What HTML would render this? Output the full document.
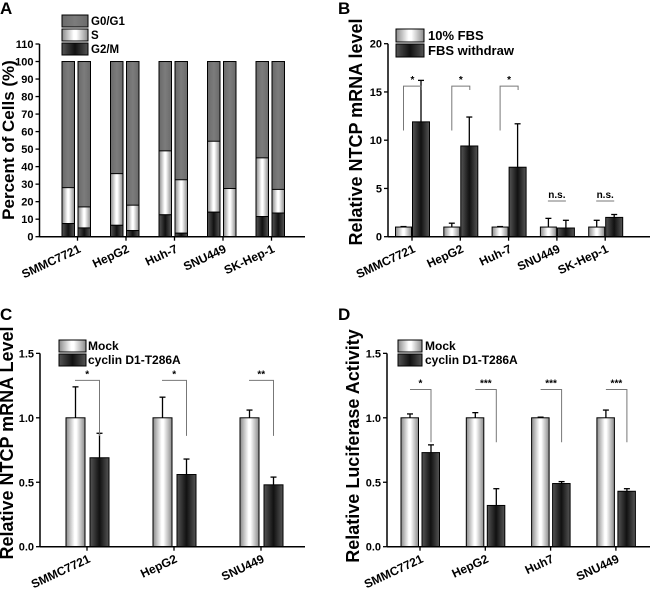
<!DOCTYPE html>
<html><head><meta charset="utf-8"><style>
body{margin:0;background:#fff}
svg{display:block;font-family:"Liberation Sans",Arial,sans-serif;font-weight:bold}
</style></head><body>
<svg id="fig" width="650" height="592" viewBox="0 0 650 592">
<defs>
<linearGradient id="gW" x1="0" x2="1"><stop offset="0" stop-color="#8a8a8a"/><stop offset="0.45" stop-color="#fff"/><stop offset="0.55" stop-color="#fff"/><stop offset="1" stop-color="#8a8a8a"/></linearGradient>
<linearGradient id="gK" x1="0" x2="1"><stop offset="0" stop-color="#555"/><stop offset="0.5" stop-color="#111"/><stop offset="1" stop-color="#555"/></linearGradient>
<linearGradient id="gG" x1="0" x2="1"><stop offset="0" stop-color="#6a6a6a"/><stop offset="0.5" stop-color="#7c7c7c"/><stop offset="1" stop-color="#6a6a6a"/></linearGradient>
</defs>
</svg>
<script>
// Panel A
const aCats=["SMMC7721","HepG2","Huh-7","SNU449","SK-Hep-1"];
const aG2M=[[7.5,5],[6.5,3.5],[12.5,2],[14,0],[11.5,13.5]];
const aSTop=[[28,17],[36,18],[49,32.5],[54.5,27.5],[45,27]];
const aTicks=[0,10,20,30,40,50,60,70,80,90,100,110];
// Panel B
const bCats=["SMMC7721","HepG2","Huh-7","SNU449","SK-Hep-1"];
const bFBS=[1,1,1,1,1];
const bFBSErr=[0.05,0.4,0.05,0.9,0.7];
const bWd=[11.9,9.4,7.2,0.9,2.0];
const bWdErr=[4.3,3.0,4.5,0.8,0.3];
const bSig=["*","*","*","n.s.","n.s."];
const bTicks=[0,5,10,15,20];
// Panel C
const cCats=["SMMC7721","HepG2","SNU449"];
const cMock=[1,1,1];
const cMockErr=[0.24,0.16,0.06];
const cCyc=[0.69,0.56,0.48];
const cCycErr=[0.19,0.12,0.06];
const cSig=["*","*","**"];
const cTicks=[0,0.5,1.0,1.5];
// Panel D
const dCats=["SMMC7721","HepG2","Huh7","SNU449"];
const dMock=[1,1,1,1];
const dMockErr=[0.03,0.04,0.005,0.06];
const dCyc=[0.73,0.32,0.49,0.43];
const dCycErr=[0.06,0.13,0.015,0.02];
const dSig=["*","***","***","***"];
const dTicks=[0,0.5,1.0,1.5];

const svg=document.getElementById('fig');
const NS="http://www.w3.org/2000/svg";
function mk(tag,attrs,parent){const e=document.createElementNS(NS,tag);for(const k in attrs)e.setAttribute(k,attrs[k]);(parent||svg).appendChild(e);return e;}
function txt(s,attrs,parent){const e=mk('text',attrs,parent);e.textContent=s;return e;}
function axisY(ax,ticks,fmt,name){
  const g=mk('g',{});
  
  
  mk('line',{x1:ax.x0,y1:ax.y(ticks[ticks.length-1]),x2:ax.x0,y2:ax.y(0),stroke:'#000','stroke-width':1.5},g);
  ticks.forEach(t=>{
    const y=ax.y(t);
    mk('line',{x1:ax.x0-4,y1:y,x2:ax.x0,y2:y,stroke:'#000','stroke-width':1.3},g);
    const l=txt(fmt(t),{x:ax.x0-6,y:y+4,'font-size':11,'text-anchor':'end'},g);
    
    
  });
}
function axisX(ax,cats,centers,name){
  const g=mk('g',{});
  
  
  mk('line',{x1:ax.x0,y1:ax.y(0),x2:ax.x1,y2:ax.y(0),stroke:'#000','stroke-width':1.5},g);
  cats.forEach((c,i)=>{
    const x=centers[i],y=ax.y(0);
    mk('line',{x1:x,y1:y,x2:x,y2:y+4,stroke:'#000','stroke-width':1.3},g);
    const l=txt(c,{x:x+4,y:y+15,'font-size':12,'text-anchor':'end',transform:`rotate(-25 ${x+4} ${y+15})`},g);
    
    
  });
}
function bar(x,w,y0,y1,fill,name){
  const r=mk('rect',{x:x,y:Math.min(y0,y1),width:w,height:Math.abs(y1-y0),fill:fill,stroke:'#000','stroke-width':1});
  
  
  return r;
}
function err(x,ytop,ybar){
  mk('line',{x1:x,y1:ybar,x2:x,y2:ytop,stroke:'#000','stroke-width':1.3});
  mk('line',{x1:x-3,y1:ytop,x2:x+3,y2:ytop,stroke:'#000','stroke-width':1.3});
}
function label(s,x,y,name){const l=txt(s,{x:x,y:y,'font-size':17});}
function ytitle(s,x,y,size,name){const l=txt(s,{x:x,y:y,'font-size':size,'text-anchor':'middle',transform:`rotate(-90 ${x} ${y})`});}
function legend(items,x,y,w,h,tx,size,name){
  const g=mk('g',{});
  
  
  items.forEach((it,i)=>{
    mk('rect',{x:x,y:y+i*(h+2),width:w,height:h,fill:it[1],stroke:'#000','stroke-width':1},g);
    const l=txt(it[0],{x:tx,y:y+i*(h+2)+h-2,'font-size':size},g);
    
    
  });
}

// ---------- Panel A ----------
label("A",0,14,'panel-a-label');
const A={x0:39.5,x1:305,y:v=>236.7-v*1.7518};
const aCenters=aCats.map((c,i)=>77.5+i*48.5);
aCats.forEach((c,i)=>{
  [0,1].forEach(j=>{
    const x=aCenters[i]+(j===0?-15.5:0.5),w=12.5;
    bar(x,w,A.y(0),A.y(100),'url(#gG)','bar-g0g1-'+c);
    bar(x,w,A.y(aG2M[i][j]),A.y(aSTop[i][j]),'url(#gW)','bar-s-'+c);
    if(aG2M[i][j]>0) bar(x,w,A.y(0),A.y(aG2M[i][j]),'url(#gK)','bar-g2m-'+c);
  });
});
axisY(A,aTicks,t=>String(t),'y-axis-a');
axisX(A,aCats,aCenters,'x-axis-a');
ytitle("Percent of Cells (%)",14,140,17,'y-axis-title-a');
legend([["G0/G1","url(#gG)"],["S","url(#gW)"],["G2/M","url(#gK)"]],62,15,26,12,91,11.5,'legend-a');

// ---------- Panel B ----------
label("B",338,14,'panel-b-label');
const B={x0:388,x1:650,y:v=>236.7-v*9.65};
const bCenters=bCats.map((c,i)=>412+i*48.3);
bCats.forEach((c,i)=>{
  const xc=bCenters[i];
  bar(xc-16.5,16,B.y(0),B.y(bFBS[i]),'url(#gW)','bar-fbs-'+c);
  err(xc-8.5,B.y(bFBS[i]+bFBSErr[i]),B.y(bFBS[i]));
  bar(xc+0.5,17,B.y(0),B.y(bWd[i]),'url(#gK)','bar-withdraw-'+c);
  err(xc+9,B.y(bWd[i]+bWdErr[i]),B.y(bWd[i]));
  const s=bSig[i];
  if(s==="*"){
    const xl=xc-8.5,xr=xc+9.5,yb=B.y(11),yt=B.y(15.6),yr=B.y(15.2);
    mk('path',{d:`M${xl} ${yb}V${yt}H${xr}V${yr}`,fill:'none',stroke:'#777','stroke-width':1});
    txt(s,{x:(xl+xr)/2,y:yt-3,'font-size':10,'text-anchor':'middle'});
  }else{
    mk('line',{x1:xc-9,y1:B.y(3.7),x2:xc+9,y2:B.y(3.7),stroke:'#777','stroke-width':1});
    txt(s,{x:xc,y:B.y(3.7)-3,'font-size':10,'text-anchor':'middle'});
  }
});
axisY(B,bTicks,t=>String(t),'y-axis-b');
axisX(B,bCats,bCenters,'x-axis-b');
ytitle("Relative NTCP mRNA level",362,132,18,'y-axis-title-b');
legend([["10% FBS","url(#gW)"],["FBS withdraw","url(#gK)"]],396,29,28,13,428,13,'legend-b');

// ---------- Panel C ----------
label("C",0,320,'panel-c-label');
const C={x0:40,x1:305,y:v=>546.7-v*128.9};
const cCenters=cCats.map((c,i)=>87+i*87);
cCats.forEach((c,i)=>{
  const xc=cCenters[i];
  bar(xc-21,19,C.y(0),C.y(cMock[i]),'url(#gW)','bar-mock-'+c);
  err(xc-11.5,C.y(cMock[i]+cMockErr[i]),C.y(cMock[i]));
  bar(xc+3,19,C.y(0),C.y(cCyc[i]),'url(#gK)','bar-cyclin-'+c);
  err(xc+12.5,C.y(cCyc[i]+cCycErr[i]),C.y(cCyc[i]));
  const xl=xc-12,xr=xc+12.5,yt=C.y(1.29),yb=C.y(0.86);
  mk('path',{d:`M${xl} ${yt}H${xr}V${yb}`,fill:'none',stroke:'#777','stroke-width':1});
  txt(cSig[i],{x:(xl+xr)/2,y:yt-3,'font-size':10,'text-anchor':'middle'});
});
axisY(C,cTicks,t=>t.toFixed(1),'y-axis-c');
axisX(C,cCats,cCenters,'x-axis-c');
ytitle("Relative NTCP mRNA Level",13,443,18,'y-axis-title-c');
legend([["Mock","url(#gW)"],["cyclin D1-T286A","url(#gK)"]],59,340,27,12,88,12,'legend-c');

// ---------- Panel D ----------
label("D",338,320,'panel-d-label');
const D={x0:387,x1:650,y:v=>546.7-v*128.9};
const dCenters=dCats.map((c,i)=>420+i*65.3);
dCats.forEach((c,i)=>{
  const xc=dCenters[i];
  bar(xc-19,17.5,D.y(0),D.y(dMock[i]),'url(#gW)','bar-mock-'+c);
  err(xc-10,D.y(dMock[i]+dMockErr[i]),D.y(dMock[i]));
  bar(xc+2,17.5,D.y(0),D.y(dCyc[i]),'url(#gK)','bar-cyclin-'+c);
  err(xc+11,D.y(dCyc[i]+dCycErr[i]),D.y(dCyc[i]));
  const xl=xc-10,xr=xc+11,yt=D.y(1.22),yb=D.y(0.81);
  mk('path',{d:`M${xl} ${yt}H${xr}V${yb}`,fill:'none',stroke:'#777','stroke-width':1});
  txt(dSig[i],{x:(xl+xr)/2,y:yt-3,'font-size':10,'text-anchor':'middle'});
});
axisY(D,dTicks,t=>t.toFixed(1),'y-axis-d');
axisX(D,dCats,dCenters,'x-axis-d');
ytitle("Relative Luciferase Activity",359,446,18,'y-axis-title-d');
legend([["Mock","url(#gW)"],["cyclin D1-T286A","url(#gK)"]],398,340,24,12,425,12,'legend-d');
</script>
</body></html>
